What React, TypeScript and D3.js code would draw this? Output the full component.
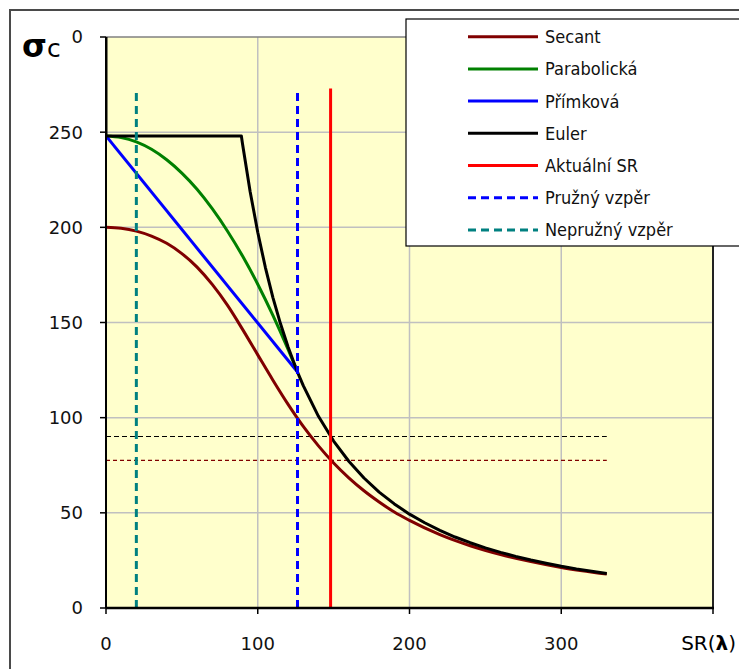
import * as d3 from "d3";

const W = 739, H = 669;
const PLOT = { left: 106, right: 713, top: 37, bottom: 608 };

// axis ticks
const X_TICKS = [0, 100, 200, 300, 400];
const X_TICK_LABELS = ["0", "100", "200", "300", ""];
const Y_TICKS = [0, 50, 100, 150, 200, 250, 300];
const Y_TICK_LABELS = ["0", "50", "100", "150", "200", "250", "0"];

// Secant
const SECANT_SR = [0, 10, 20, 30, 40, 50, 60, 70, 80, 90, 100, 110, 120, 130, 140, 150, 160, 170, 180, 190, 200, 220, 240, 260, 280, 300, 330];
const SECANT = [200, 199.5, 198, 195.4, 191.6, 186.2, 179.1, 170, 159.1, 146.4, 133, 119.7, 107, 95.4, 85.2, 76.2, 68.4, 61.6, 55.7, 50.4, 46, 38.5, 32.7, 28.1, 24.4, 21.3, 17.8];

// Parabolická
const PARAB_SR = [0, 10, 20, 30, 40, 50, 60, 70, 80, 90, 100, 110, 120, 126.2];
const PARAB = [248, 247.2, 244.9, 241, 235.5, 228.5, 220, 209.8, 198.1, 184.9, 170.1, 153.7, 135.8, 124];

// Přímková
const LIN_SR = [0, 126.2];
const LIN = [248, 124];

// Euler
const EULER_SR = [0, 0, 89.2, 90, 95, 100, 105, 110, 115, 120, 126.2, 130, 140, 150, 160, 170, 180, 190, 200, 210, 220, 230, 240, 250, 260, 270, 280, 290, 300, 310, 320, 330];
const EULER = [300, 248, 248, 243.7, 218.7, 197.4, 179, 163.1, 149.3, 137.1, 123.9, 116.8, 100.7, 87.7, 77.1, 68.3, 60.9, 54.7, 49.3, 44.8, 40.8, 37.3, 34.3, 31.6, 29.2, 27.1, 25.2, 23.5, 21.9, 20.5, 19.3, 18.1];

// vertical markers: Aktuální SR, Pružný vzpěr, Nepružný vzpěr
const MARK_SR = [148, 126.2, 20];
const MARK_TOP = 273;

// horizontal reference lines at the current SR
const REF_SR = [0, 330];
const REF_EULER = 90.1;
const REF_SECANT = 77.6;

const LEGEND_NAMES = ["Secant", "Parabolická", "Přímková", "Euler", "Aktuální SR", "Pružný vzpěr", "Nepružný vzpěr"];
const LEGEND_COLORS = ["#800000", "#008000", "#0000ff", "#000000", "#ff0000", "#0000ff", "#008080"];
const LEGEND_DASH = [null, null, null, null, null, "8,5", "8,5"];

const FONT = "'DejaVu Sans', sans-serif";
const FONT_C = "'DejaVu Sans Condensed', 'DejaVu Sans', sans-serif";

export default function App() {
  const x = d3.scaleLinear().domain([0, 400]).range([PLOT.left, PLOT.right]);
  const y = d3.scaleLinear().domain([0, 300]).range([PLOT.bottom, PLOT.top]);

  const line = (xs: number[], ys: number[], curve: d3.CurveFactory = d3.curveLinear) =>
    d3.line<number>().x((_, i) => x(xs[i])).y(d => y(d)).curve(curve)(ys) || "";

  const series = [
    { d: line(SECANT_SR, SECANT, d3.curveMonotoneX), color: LEGEND_COLORS[0] },
    { d: line(PARAB_SR, PARAB, d3.curveMonotoneX), color: LEGEND_COLORS[1] },
    { d: line(LIN_SR, LIN), color: LEGEND_COLORS[2] },
    { d: line(EULER_SR, EULER), color: LEGEND_COLORS[3] },
  ];

  const legendX = 406, legendY = 19, rowH = 32.2;

  return (
    <div style={{ position: "absolute", left: 0, top: 0 }}>
      <svg width={W} height={H} style={{ display: "block", background: "#fff" }}>
        <defs>
          <clipPath id="plot-clip">
            <rect x={PLOT.left} y={PLOT.top - 2} width={PLOT.right - PLOT.left} height={PLOT.bottom - PLOT.top + 2} />
          </clipPath>
        </defs>

        {/* chart border */}
        <rect x={10} y={10} width={760} height={700} fill="#fff" stroke="#4a4a4a" strokeWidth={2} />

        {/* plot area */}
        <rect x={PLOT.left} y={PLOT.top} width={PLOT.right - PLOT.left} height={PLOT.bottom - PLOT.top} fill="#ffffcc" />

        {/* grid */}
        {Y_TICKS.slice(1, -1).map(t => (
          <line key={"gy" + t} x1={PLOT.left} x2={PLOT.right} y1={y(t)} y2={y(t)} stroke="#c0c0c0" strokeWidth={1.5} />
        ))}
        {X_TICKS.slice(1, -1).map(t => (
          <line key={"gx" + t} x1={x(t)} x2={x(t)} y1={PLOT.top} y2={PLOT.bottom} stroke="#c0c0c0" strokeWidth={1.5} />
        ))}
        <line x1={PLOT.left} x2={PLOT.right} y1={PLOT.top} y2={PLOT.top} stroke="#808080" strokeWidth={1.5} />
        <line x1={PLOT.right} x2={PLOT.right} y1={PLOT.top} y2={PLOT.bottom} stroke="#222" strokeWidth={2} />

        <g clipPath="url(#plot-clip)">
          {/* reference dashed lines */}
          <line x1={x(REF_SR[0])} x2={x(REF_SR[1])} y1={y(REF_EULER)} y2={y(REF_EULER)} stroke="#000" strokeWidth={1.2} strokeDasharray="5,3" />
          <line x1={x(REF_SR[0])} x2={x(REF_SR[1])} y1={y(REF_SECANT)} y2={y(REF_SECANT)} stroke="#800000" strokeWidth={1.2} strokeDasharray="4,3" />

          {series.map((s, i) => (
            <path key={i} d={s.d} fill="none" stroke={s.color} strokeWidth={3} strokeLinejoin="round" />
          ))}

          {MARK_SR.map((m, i) => (
            <line key={"m" + i} x1={x(m)} x2={x(m)} y1={y(0)} y2={y(MARK_TOP)}
              stroke={LEGEND_COLORS[4 + i]} strokeWidth={3} strokeDasharray={LEGEND_DASH[4 + i] || undefined} />
          ))}
        </g>

        {/* axes */}
        <line x1={PLOT.left} x2={PLOT.left} y1={PLOT.top} y2={PLOT.bottom} stroke="#000" strokeWidth={2} />
        <line x1={PLOT.left} x2={PLOT.right + 1} y1={PLOT.bottom} y2={PLOT.bottom} stroke="#000" strokeWidth={2.5} />
        {Y_TICKS.map((t, i) => (
          <g key={"yt" + t}>
            <line x1={PLOT.left - 6} x2={PLOT.left} y1={y(t)} y2={y(t)} stroke="#000" strokeWidth={1.5} />
            <text x={83} y={y(t)} dy="0.36em" textAnchor="end" fontFamily={FONT} fontSize={18} fill="#111">{Y_TICK_LABELS[i]}</text>
          </g>
        ))}
        {X_TICKS.map((t, i) => (
          <g key={"xt" + t}>
            <line x1={x(t)} x2={x(t)} y1={PLOT.bottom} y2={PLOT.bottom + 6} stroke="#000" strokeWidth={1.5} />
            <text x={x(t)} y={650} textAnchor="middle" fontFamily={FONT} fontSize={18} fill="#111">{X_TICK_LABELS[i]}</text>
          </g>
        ))}

        {/* axis titles */}
        <text x={22} y={57} fontFamily={FONT} fill="#000">
          <tspan fontSize={32} fontWeight="bold">σ</tspan>
          <tspan fontSize={25}>c</tspan>
        </text>
        <text x={736} y={650} textAnchor="end" fontFamily={FONT} fontSize={20} fill="#000">
          SR(<tspan fontWeight="bold">λ</tspan>)
        </text>

        {/* legend */}
        <rect x={legendX} y={legendY} width={400} height={227} fill="#fff" stroke="#000" strokeWidth={1.2} />
        {LEGEND_NAMES.map((name, i) => {
          const cy = legendY + 17.7 + i * rowH;
          return (
            <g key={name}>
              <line x1={468} x2={538} y1={cy} y2={cy} stroke={LEGEND_COLORS[i]} strokeWidth={3}
                strokeDasharray={LEGEND_DASH[i] || undefined} />
              <text x={545} y={cy} dy="0.36em" fontFamily={FONT_C} fontSize={18} fill="#111">{name}</text>
            </g>
          );
        })}
      </svg>
    </div>
  );
}
